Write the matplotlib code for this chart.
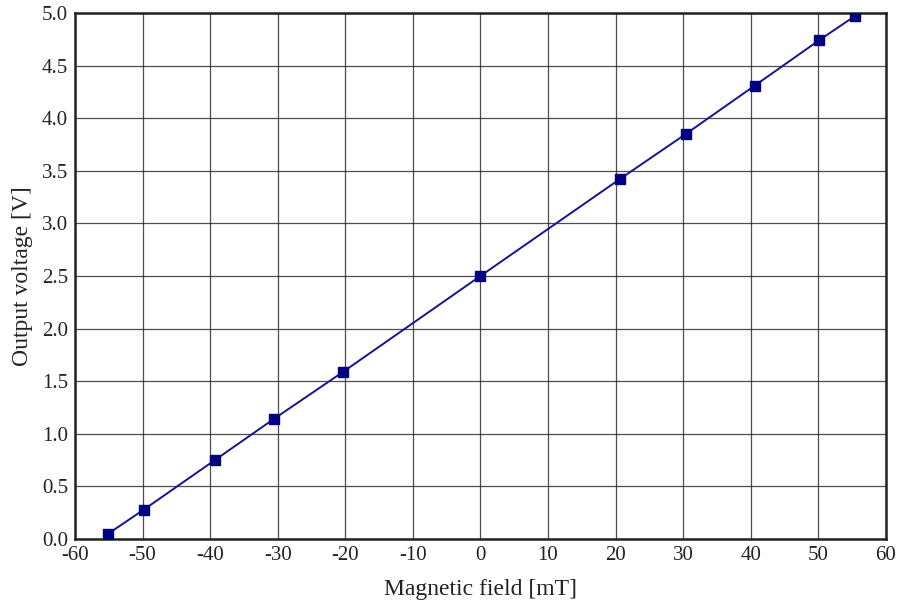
import numpy as np
import matplotlib.pyplot as plt

field_mT = [-55.1, -49.8, -39.3, -30.6, -20.3, 0.0, 20.6, 30.4, 40.6, 50.1, 55.4]
voltage_V = [0.05, 0.28, 0.75, 1.14, 1.59, 2.50, 3.42, 3.85, 4.31, 4.74, 4.97]

x_ticks = np.arange(-60, 61, 10)
y_ticks = np.arange(0, 5.01, 0.5)

plt.rcParams['font.family'] = ['Liberation Serif', 'DejaVu Serif']

fig = plt.figure(figsize=(8.98, 6.07), dpi=100)
ax = fig.add_axes([0.0835, 0.112, 0.903, 0.8666])

ax.plot(field_mT, voltage_V, color='#14148f', lw=1.4, zorder=3)
ax.plot(field_mT, voltage_V, 's', color='#000080', ms=7.4, zorder=4, lw=0)

ax.set_xlim(-60, 60)
ax.set_ylim(0, 5)
ax.set_xticks(x_ticks)
ax.set_xticklabels([str(t) for t in x_ticks])
ax.set_yticks(y_ticks)
ax.set_yticklabels([f"{t:.1f}" for t in y_ticks])
ax.grid(True, color='#222222', lw=0.9, alpha=0.8)
ax.set_axisbelow(True)
ax.tick_params(length=0, pad=5, labelsize=15, colors='#222222')
for s in ax.spines.values():
    s.set_linewidth(1.8)
    s.set_color('#222222')

ax.set_xlabel("Magnetic field [mT]", fontsize=17, color='#222222', labelpad=10)
ax.set_ylabel("Output voltage [V]", fontsize=17, color='#222222', labelpad=6)

fig.savefig("out.png", dpi=100)
